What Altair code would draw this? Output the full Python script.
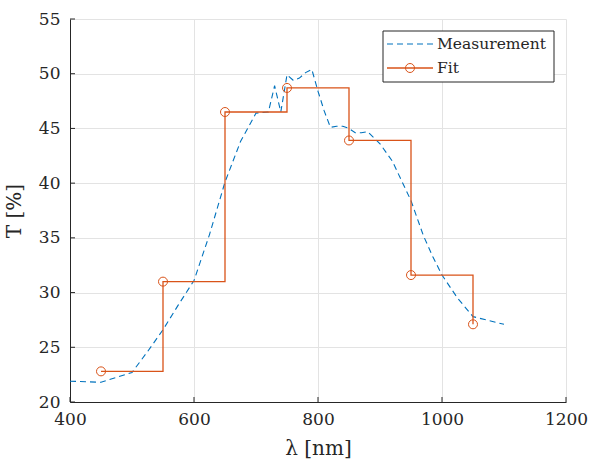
import altair as alt
import pandas as pd

# Measurement (dashed blue)
meas_nm = [400, 450, 500, 525, 550, 575, 600, 625, 650, 675, 700, 720, 730, 740,
           750, 760, 770, 780, 790, 800, 810, 820, 830, 840, 850, 860, 870, 880,
           900, 920, 950, 970, 985, 1000, 1025, 1050, 1100]
meas_T = [21.9, 21.8, 22.7, 24.6, 26.6, 28.9, 31.1, 35.3, 40.1, 43.8, 46.4, 46.5, 48.9, 46.5,
          49.9, 49.4, 49.6, 50.1, 50.4, 48.4, 46.6, 45.1, 45.2, 45.2, 45.0, 44.6, 44.6, 44.7,
          43.6, 42.0, 38.4, 35.2, 33.3, 31.6, 29.5, 27.8, 27.1]

# Fit (orange stairs with circles)
fit_nm = [450, 550, 650, 750, 850, 950, 1050]
fit_T = [22.8, 31.0, 46.5, 48.7, 43.9, 31.6, 27.1]

x_ticks = [400, 600, 800, 1000, 1200]
y_ticks = [20, 25, 30, 35, 40, 45, 50, 55]
legend_labels = ["Measurement", "Fit"]

BLUE = "#0072BD"
ORANGE = "#D95319"
FONT = "DejaVu Serif"
W, H = 496, 383

meas_df = pd.DataFrame({"nm": meas_nm, "T": meas_T})
fit_df = pd.DataFrame({"nm": fit_nm, "T": fit_T})

xs = alt.Scale(domain=[400, 1200], nice=False, zero=False)
ys = alt.Scale(domain=[20, 55], nice=False, zero=False)

x_axis = alt.Axis(values=x_ticks, format="d", grid=True, ticks=False, labelFlush=False,
                  labelOverlap=False, labelPadding=9, title="λ [nm]",
                  titleY=52, titleBaseline="alphabetic")
y_axis = alt.Axis(values=y_ticks, format="d", grid=True, ticks=False, labelFlush=False,
                  labelOverlap=False, labelPadding=10, title="T [%]",
                  titleX=-50, titleY=H / 2, titleAngle=270,
                  titleBaseline="alphabetic", titleAlign="center")

meas = alt.Chart(meas_df).mark_line(color=BLUE, strokeWidth=1.1, strokeDash=[6, 4]).encode(
    x=alt.X("nm:Q", scale=xs, axis=x_axis),
    y=alt.Y("T:Q", scale=ys, axis=y_axis),
)
fit_line = alt.Chart(fit_df).mark_line(color=ORANGE, strokeWidth=1.3, interpolate="step-after").encode(
    x=alt.X("nm:Q", scale=xs), y=alt.Y("T:Q", scale=ys)
)
fit_pts = alt.Chart(fit_df).mark_point(shape="circle", filled=False, size=81, color=ORANGE,
                                       strokeWidth=1, opacity=1).encode(
    x=alt.X("nm:Q", scale=xs), y=alt.Y("T:Q", scale=ys)
)

xt = alt.Chart(pd.DataFrame({"v": x_ticks})).mark_rule(color="#262626", strokeWidth=1).encode(
    x=alt.X("v:Q", scale=xs), y=alt.value(H), y2=alt.value(H - 5)
)
yt = alt.Chart(pd.DataFrame({"v": y_ticks})).mark_rule(color="#262626", strokeWidth=1).encode(
    y=alt.Y("v:Q", scale=ys), x=alt.value(0), x2=alt.value(5)
)

one = pd.DataFrame({"k": [0]})
leg_box = alt.Chart(one).mark_rect(fill="white", stroke="#262626", strokeWidth=1).encode(
    x=alt.value(313), x2=alt.value(484), y=alt.value(12), y2=alt.value(63)
)
leg_l1 = alt.Chart(one).mark_rule(color=BLUE, strokeWidth=1.1, strokeDash=[6, 4]).encode(
    x=alt.value(317), x2=alt.value(363), y=alt.value(25)
)
leg_l2 = alt.Chart(one).mark_rule(color=ORANGE, strokeWidth=1.3).encode(
    x=alt.value(317), x2=alt.value(363), y=alt.value(49)
)
leg_pt = alt.Chart(one).mark_point(shape="circle", filled=False, size=81, color=ORANGE,
                                   strokeWidth=1, opacity=1).encode(
    x=alt.value(340), y=alt.value(49)
)
leg_t1 = alt.Chart(one).mark_text(align="left", baseline="middle", font=FONT, fontSize=15.5,
                                  color="#262626").encode(
    x=alt.value(367), y=alt.value(25), text=alt.value(legend_labels[0])
)
leg_t2 = alt.Chart(one).mark_text(align="left", baseline="middle", font=FONT, fontSize=15.5,
                                  color="#262626").encode(
    x=alt.value(367), y=alt.value(49), text=alt.value(legend_labels[1])
)

chart = alt.layer(
    meas, fit_line, fit_pts, xt, yt, leg_box, leg_l1, leg_l2, leg_pt, leg_t1, leg_t2
).properties(
    width=W, height=H,
    autosize=alt.AutoSizeParams(type="none"),
    padding={"left": 70, "top": 19, "right": 23, "bottom": 59},
    background="white",
).configure_view(stroke=None).configure_axis(
    labelFont=FONT, labelFontSize=17, labelColor="#262626",
    titleFont=FONT, titleFontSize=20, titleFontWeight="normal", titleColor="#262626",
    gridColor="#e3e3e3", domainColor="#262626", domainWidth=1,
)

chart.save("out.html", embed_options={"renderer": "svg", "actions": False})
